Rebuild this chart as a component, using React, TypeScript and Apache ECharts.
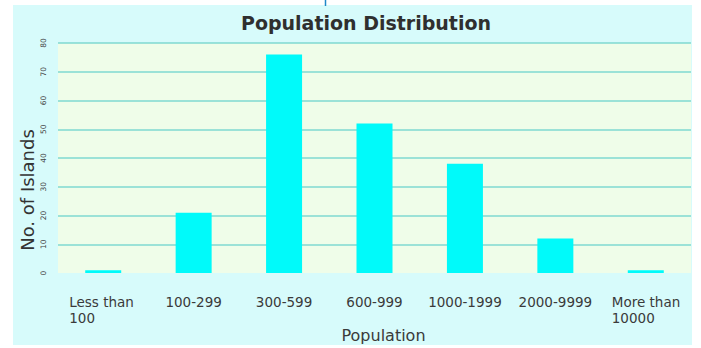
import React, { useEffect, useRef } from "react";
import * as echarts from "echarts";

const categories = [
  "Less than 100",
  "100-299",
  "300-599",
  "600-999",
  "1000-1999",
  "2000-9999",
  "More than 10000",
];
const islandCounts = [1, 21, 76, 52, 38, 12, 1];
const yMin = 0;
const yMax = 80;
const yInterval = 10;

const titleText = "Population Distribution";
const xAxisName = "Population";
const yAxisName = "No. of Islands";

export default function App() {
  const ref = useRef<HTMLDivElement>(null);

  useEffect(() => {
    if (!ref.current) return;
    const chart = echarts.init(ref.current, undefined, { renderer: "svg" });
    const font = "DejaVu Sans";
    chart.setOption({
      animation: false,
      backgroundColor: "#ffffff",
      title: {
        text: titleText,
        left: 361,
        top: 8,
        textAlign: "center",
        textStyle: {
          fontFamily: font,
          fontSize: 19,
          fontWeight: "bold",
          color: "#2f2f2f",
        },
      },
      graphic: [
        {
          type: "rect",
          z: -10,
          silent: true,
          shape: { x: 13, y: 5, width: 679, height: 340 },
          style: { fill: "#d7fbfb" },
        },
        {
          type: "line",
          z: 10,
          silent: true,
          shape: { x1: 325.5, y1: 0, x2: 325.5, y2: 6 },
          style: { stroke: "#1f88c8", lineWidth: 1.5 },
        },
        {
          type: "text",
          z: 10,
          x: 383.5,
          y: 335,
          style: {
            text: xAxisName,
            fontFamily: font,
            fontSize: 16,
            fill: "#3a3a3a",
            textAlign: "center",
            textVerticalAlign: "middle",
          },
        },
        {
          type: "text",
          z: 10,
          x: 27.5,
          y: 190,
          rotation: Math.PI / 2,
          style: {
            text: yAxisName,
            fontFamily: font,
            fontSize: 18,
            fill: "#333333",
            textAlign: "center",
            textVerticalAlign: "middle",
          },
        },
      ],
      grid: {
        left: 58,
        right: 10,
        top: 43,
        bottom: 75,
        show: true,
        backgroundColor: "#effde9",
        borderWidth: 0,
      },
      xAxis: {
        type: "category",
        data: categories,
        axisLine: { show: false },
        axisTick: { show: false },
        axisLabel: {
          interval: 0,
          margin: 21,
          fontFamily: font,
          fontSize: 13.5,
          lineHeight: 16,
          color: "#3a3a3a",
          formatter: (v: string) =>
            v.indexOf(" than ") >= 0
              ? v
                  .replace(" than ", " than\n")
                  .split("\n")
                  .map((s) => `{l|${s}}`)
                  .join("\n")
              : v,
          rich: {
            l: {
              width: 68,
              align: "left",
              fontFamily: font,
              fontSize: 13.5,
              lineHeight: 16,
              color: "#3a3a3a",
            },
          },
        },
      },
      yAxis: {
        type: "value",
        min: yMin,
        max: yMax,
        interval: yInterval,
        axisLine: { show: false },
        axisTick: { show: false },
        axisLabel: {
          rotate: 90,
          margin: 11,
          fontFamily: font,
          fontSize: 7.5,
          color: "#444444",
        },
        splitLine: {
          show: true,
          showMinLine: false,
          lineStyle: { color: "#7fd8d0", width: 1.5 },
        },
      },
      series: [
        {
          type: "bar",
          data: islandCounts,
          barWidth: 36,
          itemStyle: { color: "#00fafa" },
        },
      ],
    });
    return () => chart.dispose();
  }, []);

  return (
    <div
      ref={ref}
      style={{ position: "absolute", left: 0, top: 0, width: 701, height: 348 }}
    />
  );
}
